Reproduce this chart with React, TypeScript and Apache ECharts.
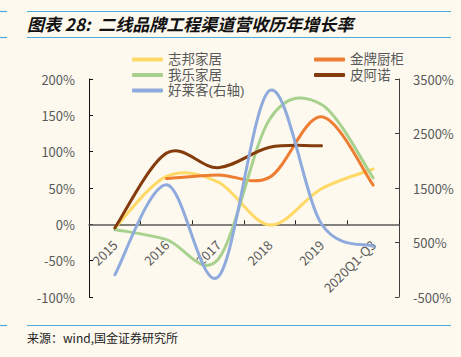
import React, { useEffect, useRef } from "react";
import * as echarts from "echarts";

const categories = ["2015", "2016", "2017", "2018", "2019", "2020Q1-Q3"];
const zhibang = [-5, 66, 58, -1, 49, 76];
const jinpai = [null, 63, 68, 65, 148, 54];
const wole = [-7, -21, -48, 145, 165, 64];
const pianuo = [-5, 98, 78, 106, 108, null];
const haolaike = [-93, 1560, -130, 3290, 840, 430];

const leftTicks = { min: -100, max: 200, interval: 50 };
const rightTicks = { min: -500, max: 3500, interval: 1000 };

const FONT = '"Noto Sans CJK SC", "Noto Sans", sans-serif';
const LEGEND_FONT = '"Liberation Sans", "Noto Sans CJK SC", sans-serif';
const GRAY = "#595959";

function splinePath(pts: (number[] | null)[]): string {
  let d = "";
  let seg: number[][] = [];
  const flush = () => {
    if (seg.length === 0) return;
    d += `M${seg[0][0]},${seg[0][1]}`;
    for (let i = 0; i < seg.length - 1; i++) {
      const p0 = seg[Math.max(0, i - 1)];
      const p1 = seg[i];
      const p2 = seg[i + 1];
      const p3 = seg[Math.min(seg.length - 1, i + 2)];
      const c1x = p1[0] + (p2[0] - p0[0]) / 6;
      const c1y = p1[1] + (p2[1] - p0[1]) / 6;
      const c2x = p2[0] - (p3[0] - p1[0]) / 6;
      const c2y = p2[1] - (p3[1] - p1[1]) / 6;
      d += `C${c1x},${c1y},${c2x},${c2y},${p2[0]},${p2[1]}`;
    }
    seg = [];
  };
  pts.forEach((p) => {
    if (p) seg.push(p);
    else flush();
  });
  flush();
  return d;
}

export default function App() {
  const ref = useRef<HTMLDivElement>(null);
  useEffect(() => {
    if (!ref.current) return;
    const chart = echarts.init(ref.current, null, { renderer: "svg" });
    const curve = (name: string, values: (number | null)[], color: string, yAxisIndex = 0) => ({
      name,
      type: "custom",
      coordinateSystem: "cartesian2d",
      xAxisIndex: 0,
      yAxisIndex,
      data: values.map((v, i) => [i, v == null ? 0 : v]),
      encode: { x: 0, y: 1 },
      itemStyle: { color },
      renderItem: (params: any, api: any) => {
        if (params.dataIndex !== 0) return null;
        const pts = values.map((v, i) => (v == null ? null : api.coord([i, v])));
        return {
          type: "path",
          shape: { pathData: splinePath(pts) },
          style: { stroke: color, lineWidth: 3, fill: "none", lineCap: "round", lineJoin: "round" },
        };
      },
      z: 3,
    });
    const legendCommon = {
      orient: "vertical",
      itemWidth: 31,
      itemHeight: 4,
      itemGap: 0.5,
      icon: "roundRect",
      textStyle: { color: GRAY, fontSize: 13.5, fontFamily: LEGEND_FONT, lineHeight: 15 },
    };
    const pct = (v: number) => `${v}%`;
    chart.setOption({
      animation: false,
      backgroundColor: "#FDF9EF",
      textStyle: { fontFamily: FONT },
      grid: { left: 89, right: 62, top: 79, bottom: 60 },
      legend: [
        { ...legendCommon, left: 127, top: 47, data: ["志邦家居", "我乐家居", "好莱客(右轴)"] },
        { ...legendCommon, left: 309, top: 47, data: ["金牌厨柜", "皮阿诺"] },
      ],
      xAxis: {
        type: "category",
        data: categories,
        boundaryGap: true,
        position: "bottom",
        offset: -72.67,
        axisLine: { onZero: false, lineStyle: { color: GRAY, width: 1.5 } },
        axisTick: { show: true, inside: true, length: 4, lineStyle: { color: "#222" } },
        axisLabel: { rotate: 45, color: GRAY, fontSize: 13, fontFamily: FONT, margin: 18 },
        z: 2,
      },
      yAxis: [
        {
          type: "value",
          ...leftTicks,
          axisLine: { show: true, lineStyle: { color: "#111", width: 1 } },
          axisTick: { show: true, inside: true, length: 4, lineStyle: { color: "#111" } },
          splitLine: { show: false },
          axisLabel: { color: GRAY, fontSize: 13, fontFamily: FONT, margin: 14, formatter: pct },
        },
        {
          type: "value",
          position: "right",
          ...rightTicks,
          axisLine: { show: true, lineStyle: { color: "#404040", width: 1 } },
          axisTick: { show: true, inside: true, length: 4, lineStyle: { color: "#404040" } },
          splitLine: { show: false },
          axisLabel: { color: GRAY, fontSize: 13, fontFamily: FONT, margin: 14, formatter: pct },
        },
      ],
      series: [
        curve("志邦家居", zhibang, "#FFD966"),
        curve("金牌厨柜", jinpai, "#ED7D31"),
        curve("我乐家居", wole, "#A9D18E"),
        curve("皮阿诺", pianuo, "#843C0C"),
        curve("好莱客(右轴)", haolaike, "#8FAADC", 1),
      ],
      graphic: [
        { type: "line", shape: { x1: 0, y1: 11.5, x2: 7, y2: 11.5 }, style: { stroke: "#4BACDB", lineWidth: 1.2 } },
        { type: "line", shape: { x1: 27, y1: 11.5, x2: 451, y2: 11.5 }, style: { stroke: "#4BACDB", lineWidth: 1.2 } },
        { type: "line", shape: { x1: 0, y1: 37.5, x2: 7, y2: 37.5 }, style: { stroke: "#4BACDB", lineWidth: 1.2 } },
        { type: "line", shape: { x1: 27, y1: 37.5, x2: 451, y2: 37.5 }, style: { stroke: "#4BACDB", lineWidth: 1.2 } },
        { type: "line", shape: { x1: 0, y1: 325.5, x2: 7, y2: 325.5 }, style: { stroke: "#4BACDB", lineWidth: 1.2 } },
        { type: "line", shape: { x1: 27, y1: 325.5, x2: 451, y2: 325.5 }, style: { stroke: "#4BACDB", lineWidth: 1.2 } },
        {
          type: "text",
          x: 27,
          y: 23,
          style: {
            text: "图表 28:  二线品牌工程渠道营收历年增长率",
            fill: "#111",
            font: `italic bold 17px ${FONT}`,
            verticalAlign: "middle",
          },
        },
        {
          type: "text",
          x: 27,
          y: 337,
          style: {
            text: "来源：wind,国金证券研究所",
            fill: "#222",
            font: `12px ${FONT}`,
            verticalAlign: "middle",
          },
        },
      ],
    });
    return () => chart.dispose();
  }, []);
  return <div ref={ref} style={{ position: "fixed", left: 0, top: 0, width: 461, height: 357 }} />;
}
